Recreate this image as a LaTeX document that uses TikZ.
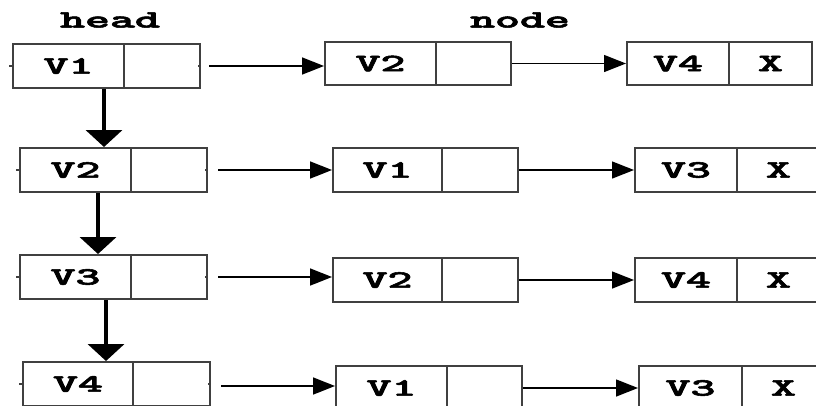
\documentclass[tikz,border=0pt]{standalone}
\usepackage{fontspec}
\newfontfamily\cellfont{lmmonolt10-bold.otf}[FakeBold=2]
\usetikzlibrary{arrows.meta,calc}
\newcommand\widetext[1]{\scalebox{1.9}[1]{#1}}
\tikzset{
  txt/.style={font=\cellfont\fontsize{25}{25}\selectfont},
  cell/.style={txt, draw=black!75, line width=2pt, rectangle, inner sep=0pt},
  label/.style={txt, inner sep=0pt},
  link/.style={draw=black, line width=1.7pt, -{Triangle[length=22pt,width=17pt]}},
  down/.style={draw=black, line width=4pt, -{Triangle[length=17pt,width=36pt]}},
  tick/.style={draw=black!75, line width=1.5pt},
}
\newcommand\cellpair[8]{%
  % #1 name, #2 left cx, #3 left width, #4 right cx, #5 right width, #6 cy, #7 height, #8 text
  \node[cell, minimum width=#3pt, minimum height=#7pt] (#1a) at (#2,#6) {\widetext{#8}};
  \node[cell, minimum width=#5pt, minimum height=#7pt] (#1b) at (#4,#6) {}}
\begin{document}
\begin{tikzpicture}[x=1pt,y=-1pt]
  \useasboundingbox (0,0) rectangle (816,405);
  \fill[white] (0,0) rectangle (816,405);

  \node[label] (head) at (110,20) {\widetext{head}};
  \node[label] (nodelbl) at (520,20) {\widetext{node}};

  % row 1
  \cellpair{p}{68.5}{111}{162}{76}{66}{44}{V1};
  \cellpair{q}{380.5}{111}{473.5}{75}{63.5}{43}{V2};
  \cellpair{s}{678}{102}{770.5}{83}{63.5}{43}{V4};
  \node[label] (sx) at (sb) {\widetext{X}};
  % row 2
  \cellpair{a}{75.5}{111}{169}{76}{170}{44}{V2};
  \cellpair{b}{387.5}{109}{480}{76}{170}{44}{V1};
  \cellpair{c}{686}{102}{778.5}{83}{170}{44}{V3};
  \node[label] (cx) at (cb) {\widetext{X}};
  % row 3
  \cellpair{d}{75.5}{111}{169}{76}{277}{44}{V3};
  \cellpair{e}{387.5}{109}{480}{76}{280}{44}{V2};
  \cellpair{f}{686}{102}{778.5}{83}{280}{44}{V4};
  \node[label] (fx) at (fb) {\widetext{X}};
  % row 4
  \cellpair{g}{78}{110}{171.5}{77}{384}{44}{V4};
  \cellpair{h}{391.5}{111}{484.5}{75}{388}{44}{V1};
  \cellpair{k}{690.5}{103}{783.5}{83}{388}{44}{V3};
  \node[label] (kx) at (kb) {\widetext{X}};

  % small port marks on the head column
  \foreach \n in {p,a,d,g}{
    \draw[tick] ([xshift=-3pt]\n a.west) -- (\n a.west);
    \draw[tick] ([xshift=-3pt]\n b.east) -- (\n b.east);
  }

  % horizontal links
  \draw[link, shorten <=8pt] (pb.east) -- (pb.east -| qa.west);
  \draw[link, line width=1.4pt] (qb.east) -- (qb.east -| sa.west);
  \draw[link, shorten <=10pt] (ab.east) -- (ab.east -| ba.west);
  \draw[link, line width=1.4pt] (bb.east) -- (bb.east -| ca.west);
  \draw[link, shorten <=10pt] (db.east) -- (db.east -| ea.west);
  \draw[link, line width=1.4pt] (eb.east) -- (eb.east -| fa.west);
  \coordinate (g0) at ([yshift=-2pt]gb.east);
  \draw[link, shorten <=10pt] (g0) -- (g0 -| ha.west);
  \draw[link, line width=1.4pt] (hb.east) -- (hb.east -| ka.west);

  % vertical links down the head column
  \coordinate (v1) at ([xshift=35.5pt]pa.south);
  \coordinate (v2) at ([xshift=22.5pt]aa.south);
  \coordinate (v3) at ([xshift=30.5pt]da.south);
  \draw[down] (v1) -- (v1 |- aa.north);
  \draw[down] (v2) -- (v2 |- da.north);
  \draw[down] (v3) -- (v3 |- ga.north);
\end{tikzpicture}
\end{document}
